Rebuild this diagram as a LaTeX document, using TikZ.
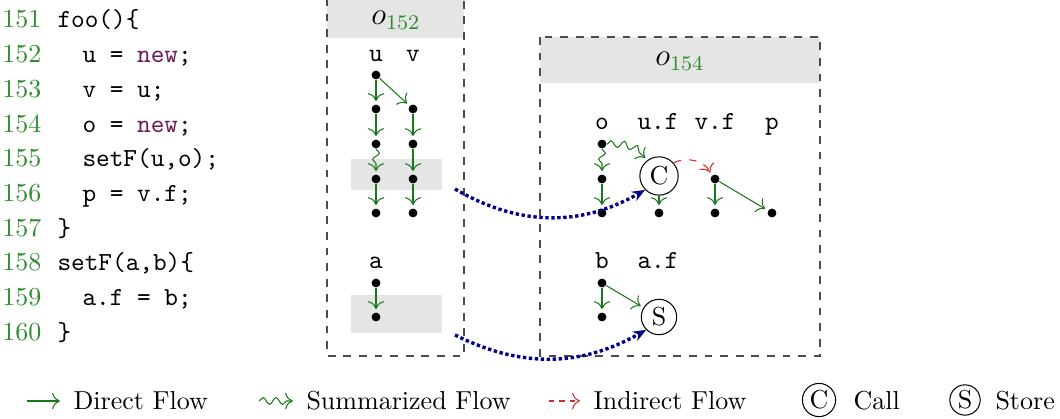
\documentclass[tikz,border=0pt]{standalone}
\usepackage{amsmath}
\usetikzlibrary{arrows.meta, decorations.pathmorphing}
\definecolor{numgreen}{RGB}{46,139,46}
\definecolor{flowgreen}{RGB}{25,120,25}
\definecolor{kwpurple}{RGB}{110,25,80}
\definecolor{indred}{RGB}{205,45,45}
\definecolor{passblue}{RGB}{0,0,140}
\newcommand{\kw}[1]{\textcolor{kwpurple}{#1}}

\begin{document}
\begin{tikzpicture}[x=0.3846pt, y=-0.3846pt,
    lnum/.style={anchor=base east, inner sep=0pt, text=numgreen},
    code/.style={anchor=base west, inner sep=0pt, font=\ttfamily},
    var/.style={anchor=base, inner sep=0pt, font=\ttfamily},
    legtext/.style={anchor=base west, inner sep=0pt},
    objhead/.style={font=\large},
    flowpt/.style={circle, fill, inner sep=0pt, minimum size=3.4pt},
    direct/.style={-{To[scale=1.2]}, flowgreen, shorten >=1.2pt},
    summ/.style={-{To[scale=1.2]}, flowgreen, shorten >=1.2pt, decorate, decoration={snake, amplitude=1.3pt, segment length=5pt, post length=3pt}},
    indirect/.style={-{To[scale=1.2]}, indred, dashed, shorten >=1.2pt},
    pass/.style={-{Stealth[length=5pt, width=4pt]}, passblue, line width=1.3pt, densely dotted},
    op/.style={circle, draw, inner sep=1.6pt},
    frame/.style={draw=black!70, dashed}]
    \useasboundingbox (0,0) rectangle (1060,419);

    % Source code
    \node[lnum] (l151) at (42,28) {151};
    \node[code] (c151) at (57,28) {foo()\{};
    \node[lnum] (l152) at (42,62.7) {152};
    \node[code] (c152) at (82,62.7) {u = \kw{new};};
    \node[lnum] (l153) at (42,97.4) {153};
    \node[code] (c153) at (82,97.4) {v = u;};
    \node[lnum] (l154) at (42,132.1) {154};
    \node[code] (c154) at (82,132.1) {o = \kw{new};};
    \node[lnum] (l155) at (42,166.8) {155};
    \node[code] (c155) at (82,166.8) {setF(u,o);};
    \node[lnum] (l156) at (42,201.5) {156};
    \node[code] (c156) at (82,201.5) {p = v.f;};
    \node[lnum] (l157) at (42,236.2) {157};
    \node[code] (c157) at (57,236.2) {\}};
    \node[lnum] (l158) at (42,270.9) {158};
    \node[code] (c158) at (57,270.9) {setF(a,b)\{};
    \node[lnum] (l159) at (42,305.6) {159};
    \node[code] (c159) at (82,305.6) {a.f = b;};
    \node[lnum] (l160) at (42,340.3) {160};
    \node[code] (c160) at (57,340.3) {\}};

    % Object o_152
    \fill[gray!20] (327,0) rectangle (464,38);
    \fill[gray!20] (351,159) rectangle (442,190);
    \fill[gray!20] (351,295) rectangle (442,333);
    \draw[frame] (327,-2) rectangle (464,356);
    \node[objhead] (h152) at (396,20) {$o_{\textcolor{numgreen}{152}}$};

    \node[var] (lu) at (376,62) {u};
    \node[var] (lv) at (413,62) {v};
    \node[flowpt] (u1) at (376,75) {};
    \node[flowpt] (u2) at (376,109) {};
    \node[flowpt] (u3) at (376,144) {};
    \node[flowpt] (u4) at (376,179) {};
    \node[flowpt] (u5) at (376,213) {};
    \node[flowpt] (v2) at (413,109) {};
    \node[flowpt] (v3) at (413,144) {};
    \node[flowpt] (v4) at (413,179) {};
    \node[flowpt] (v5) at (413,213) {};
    \draw[direct] (u1) -- (u2);
    \draw[direct] (u1) -- (v2);
    \draw[direct] (u2) -- (u3);
    \draw[direct] (v2) -- (v3);
    \draw[summ] (u3) -- (u4);
    \draw[direct] (v3) -- (v4);
    \draw[direct] (u4) -- (u5);
    \draw[direct] (v4) -- (v5);

    \node[var] (la) at (376,269) {a};
    \node[flowpt] (a1) at (376,283) {};
    \node[flowpt] (a2) at (376,317) {};
    \draw[direct] (a1) -- (a2);

    % Object o_154
    \fill[gray!20] (540,37) rectangle (820,83);
    \draw[frame] (540,37) rectangle (820,356);
    \node[objhead] (h154) at (680,61) {$o_{\textcolor{numgreen}{154}}$};

    \node[var] (lo) at (602,130) {o};
    \node[var] (luf) at (658,130) {u.f};
    \node[var] (lvf) at (715,130) {v.f};
    \node[var] (lp) at (772,130) {p};
    \node[flowpt] (o1) at (602,144) {};
    \node[flowpt] (o2) at (602,179) {};
    \node[flowpt] (o3) at (602,213) {};
    \node[op] (call) at (659,176) {C};
    \node[flowpt] (uf3) at (659,213) {};
    \node[flowpt] (vf2) at (715,179) {};
    \node[flowpt] (vf3) at (715,213) {};
    \node[flowpt] (p3) at (772,213) {};
    \draw[summ] (o1) -- (o2);
    \draw[summ] (o1) to[bend left=25] (call);
    \draw[direct] (o2) -- (o3);
    \draw[direct] (call) -- (uf3);
    \draw[indirect] (call) to[bend left=45] (vf2);
    \draw[direct] (vf2) -- (vf3);
    \draw[direct] (vf2) -- (p3);

    \node[var] (lb) at (602,269) {b};
    \node[var] (laf) at (658,269) {a.f};
    \node[flowpt] (b1) at (602,283) {};
    \node[flowpt] (b2) at (602,317) {};
    \node[op] (store) at (659,317) {S};
    \draw[direct] (b1) -- (b2);
    \draw[direct] (b1) -- (store);

    % Calls into o_154
    \coordinate (pass1) at (455,189);
    \coordinate (pass2) at (455,335);
    \draw[pass] (pass1) to[bend right=30] (call.south west);
    \draw[pass] (pass2) to[bend right=28] (store.south west);

    % Legend
    \coordinate (ldir0) at (27,401);
    \coordinate (ldir1) at (63,401);
    \draw[direct] (ldir0) -- (ldir1);
    \node[legtext] (tdir) at (73,410) {Direct Flow};
    \coordinate (lsum0) at (259,401);
    \coordinate (lsum1) at (296,401);
    \draw[summ] (lsum0) -- (lsum1);
    \node[legtext] (tsum) at (306,410) {Summarized Flow};
    \coordinate (lind0) at (549,401);
    \coordinate (lind1) at (583,401);
    \draw[indirect, dash pattern=on 2pt off 2pt] (lind0) -- (lind1);
    \node[legtext] (tind) at (593,410) {Indirect Flow};
    \node[op, inner sep=0.9pt] (lcall) at (819,400) {C};
    \node[legtext] (tcall) at (853,410) {Call};
    \node[op, inner sep=0.9pt] (lstore) at (965,400) {S};
    \node[legtext] (tstore) at (995,410) {Store};
\end{tikzpicture}
\end{document}
